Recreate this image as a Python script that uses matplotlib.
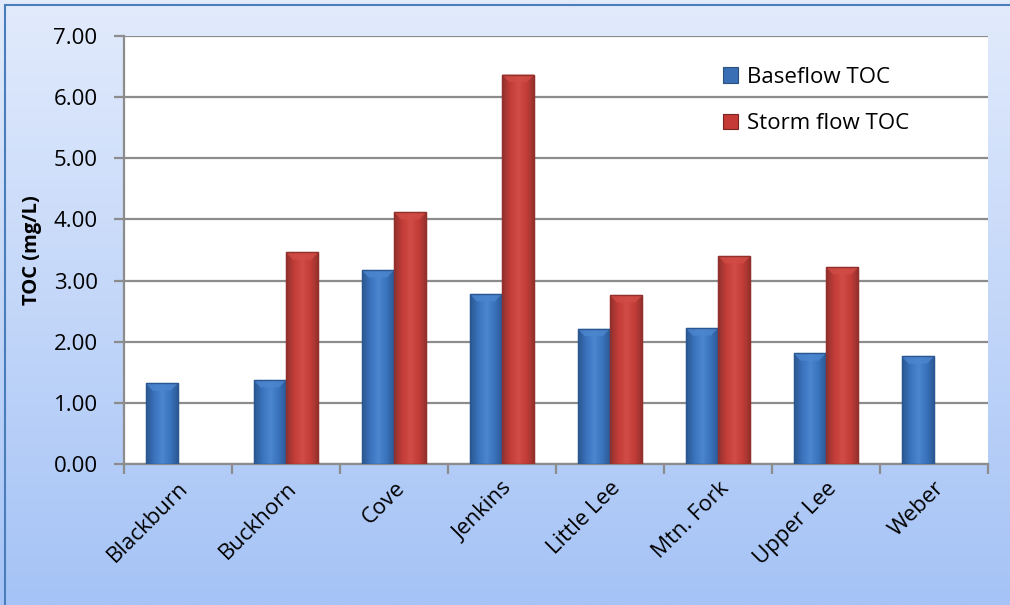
import numpy as np
import matplotlib
matplotlib.use("Agg")
import matplotlib.pyplot as plt
from matplotlib.colors import LinearSegmentedColormap
from matplotlib.patches import Rectangle
from matplotlib.transforms import ScaledTranslation

sites = ["Blackburn", "Buckhorn", "Cove", "Jenkins", "Little Lee",
         "Mtn. Fork", "Upper Lee", "Weber"]
baseflow = [1.32, 1.37, 3.17, 2.78, 2.21, 2.22, 1.81, 1.76]
storm = [np.nan, 3.46, 4.12, 6.37, 2.76, 3.40, 3.22, np.nan]
yticks = [0, 1, 2, 3, 4, 5, 6, 7]

plt.rcParams['font.family'] = ['Open Sans', 'DejaVu Sans']

fig = plt.figure(figsize=(10.1, 6.05), dpi=100)

# gradient background of the chart area
bg = fig.add_axes([0, 0, 1, 1], zorder=-10)
grad = np.linspace(0, 1, 256).reshape(-1, 1)
bg_cmap = LinearSegmentedColormap.from_list("bg", ["#e2ebfc", "#a5c3f6"])
bg.imshow(grad, aspect="auto", cmap=bg_cmap, extent=[0, 1, 0, 1], origin="upper")
bg.set_xlim(0, 1)
bg.set_ylim(0, 1)
bg.axis("off")
bg.add_patch(Rectangle((5 / 1010, -0.1), 1.2, 1 - 5 / 605 + 0.1,
                       fill=False, edgecolor="#4a7ebb", lw=1.5))

ax = fig.add_axes([124 / 1010, 1 - 464 / 605, 864 / 1010, 428 / 605])
ax.set_facecolor("white")

x = np.arange(len(sites))
w = 0.3
b1 = ax.bar(x - w / 2, baseflow, w, color="#3a6fb5", edgecolor="#2c4f7c",
            lw=0.8, zorder=3, label="Baseflow TOC")
b2 = ax.bar(x + w / 2, storm, w, color="#c53a36", edgecolor="#7a2422",
            lw=0.8, zorder=3, label="Storm flow TOC")


def shade(bars, dark, mid, light):
    cmap = LinearSegmentedColormap.from_list("s", [dark, mid, light, mid, dark])
    row = np.linspace(0, 1, 64).reshape(1, -1)
    for p in bars:
        h = p.get_height()
        if not np.isfinite(h) or h <= 0:
            continue
        x0 = p.get_x()
        x1 = x0 + p.get_width()
        im = ax.imshow(row, aspect="auto", cmap=cmap,
                       extent=[x0, x1, 0, h], zorder=3.5)
        im.set_clip_path(p)
        # bevelled top
        cap = min(0.12, h)
        ax.fill([x0, x1, x1 - p.get_width() * 0.22, x0 + p.get_width() * 0.22],
                [h, h, h - cap, h - cap], color=light, alpha=0.8,
                lw=0, zorder=3.6)
        ax.add_patch(Rectangle((x0, 0), x1 - x0, h, fill=False,
                               edgecolor=dark, lw=1.0, zorder=3.7))


shade(b1, "#2a5791", "#3a73bd", "#4c86cf")
shade(b2, "#92302c", "#c33d38", "#d24c46")

ax.set_xlim(-0.5, len(sites) - 0.5)
ax.set_ylim(0, 7)
ax.set_yticks(yticks)
ax.set_yticklabels([f"{v:.2f}" for v in yticks], fontsize=16)
ax.yaxis.grid(True, color="#8c8c8c", lw=1.6, zorder=0)
ax.set_axisbelow(True)

ax.set_xticks(np.arange(len(sites) + 1) - 0.5, minor=False)
ax.set_xticklabels([])
ax.set_xticks(x, minor=True)
ax.set_xticklabels(sites, minor=True, rotation=45, ha="right",
                   rotation_mode="anchor", fontsize=16)
shift = ScaledTranslation(12 / 100, 0, fig.dpi_scale_trans)
for lab in ax.get_xticklabels(minor=True):
    lab.set_transform(lab.get_transform() + shift)
ax.tick_params(axis="x", which="minor", length=0, pad=10)
ax.tick_params(axis="x", which="major", length=7, color="#8c8c8c", width=1.6)
ax.tick_params(axis="y", length=7, color="#8c8c8c", width=1.6, pad=12)

for s in ["top", "right"]:
    ax.spines[s].set_visible(False)
for s in ["left", "bottom"]:
    ax.spines[s].set_color("#8c8c8c")
    ax.spines[s].set_linewidth(1.6)

ax.set_ylabel("TOC (mg/L)", fontsize=14.5, fontweight="bold", labelpad=8)

ax.legend(loc="upper left", bbox_to_anchor=(0.67, 0.975), frameon=False,
          fontsize=16, handlelength=0.7, handleheight=0.7,
          labelspacing=1.15, handletextpad=0.4)

fig.savefig("out.png", dpi=100)
